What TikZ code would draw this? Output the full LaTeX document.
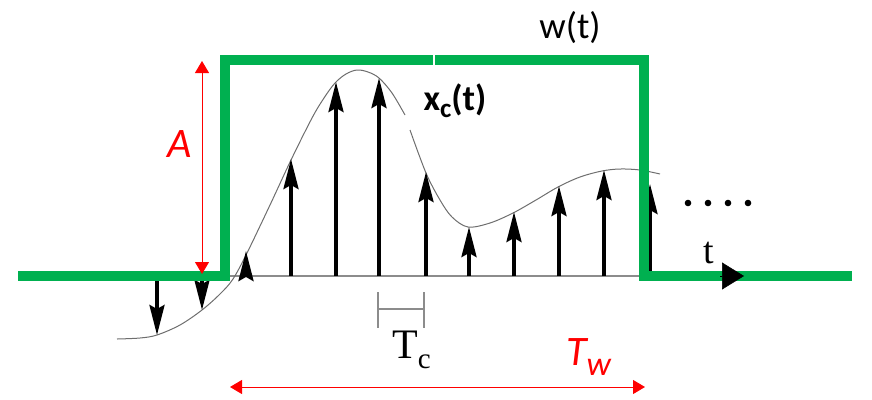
\documentclass[tikz,border=0pt]{standalone}
\usepackage{fontspec}
\setmainfont{Liberation Serif}
\newfontfamily\calfont{Carlito}
\usetikzlibrary{arrows.meta}
\definecolor{wgreen}{RGB}{0,176,80}
\definecolor{curvegray}{RGB}{110,110,110}
\definecolor{axisgray}{RGB}{140,140,140}
\begin{document}
\begin{tikzpicture}[x=1pt,y=-1pt,
  wline/.style={wgreen, line width=10pt, line join=miter},
  stem/.style={black, line width=3.5pt, -{Stealth[length=30pt,width=15pt,inset=4pt]}},
  redarrow/.style={red, line width=1pt, {Triangle[length=12pt,width=14pt]}-{Triangle[length=12pt,width=14pt]}},
  tick/.style={axisgray, line width=1.6pt},
  lbl/.style={inner sep=0pt}]
\useasboundingbox (0,0) rectangle (872,399);
% axis
\coordinate (axL) at (230,276);
\coordinate (axR) at (644,276);
\draw[axisgray, line width=1.4pt] (axL) -- (axR);
% continuous signal
\draw[curvegray, line width=1pt] plot[smooth, tension=0.55] coordinates {(117,339) (140,338) (157,335) (180,325) (202,310) (220,294) (233,279) (247,253) (270,205) (291,160) (312,118) (324,98) (335,83) (346,74) (357,70) (368,72) (379,78) (392,93) (405,115)};
\draw[curvegray, line width=1pt] plot[smooth, tension=0.55] coordinates {(410,130) (426,173) (440,200) (452,217) (468,227) (490,223) (513,213) (536,200) (558,187) (580,177) (602,171) (620,169) (640,170) (660,174)};
% samples
\foreach \i/\x/\y in {0/157/335, 1/202/310, 2/246/251, 3/291/159, 4/336/82, 5/379/78, 6/426/172, 7/469/227, 8/514/212, 9/559/186, 10/604/170, 11/650/184} {
  \coordinate (b\i) at (\x,276);
  \coordinate (s\i) at (\x,\y);
  \draw[stem] (b\i) -- (s\i);
}
% window w(t)
\coordinate (g0) at (18,276);
\coordinate (g1) at (225,276);
\coordinate (g2) at (225,60);
\coordinate (g3) at (644,60);
\coordinate (g4) at (644,276);
\coordinate (g5) at (852,276);
\draw[wline] (g0) -- (g1) -- (g2) -- (g3) -- (g4) -- (g5);
\coordinate (gapT) at (434,54);
\coordinate (gapB) at (434,66);
\draw[white, line width=2pt] (gapT) -- (gapB);
% t axis arrowhead
\coordinate (tb) at (720,276);
\coordinate (tt) at (744,276);
\draw[black, line width=0.5pt, -{Triangle[length=22pt,width=27pt]}] (tb) -- (tt);
% amplitude arrow
\coordinate (aT) at (202,61);
\coordinate (aB) at (202,274);
\draw[redarrow] (aT) -- (aB);
% window length arrow
\coordinate (wL) at (230,387);
\coordinate (wR) at (645,387);
\draw[redarrow] (wL) -- (wR);
% Tc bracket
\coordinate (c1t) at (378,292); \coordinate (c1b) at (378,328);
\coordinate (c2t) at (424,292); \coordinate (c2b) at (424,328);
\coordinate (c1m) at (378,309); \coordinate (c2m) at (424,309);
\draw[tick] (c1t) -- (c1b);
\draw[tick] (c2t) -- (c2b);
\draw[tick] (c1m) -- (c2m);
% dots
\foreach \x in {688,708,728,748} { \fill[black] (\x,203) circle (3.3pt); }
% labels
\node[lbl, anchor=base, font=\calfont\fontsize{37}{37}\selectfont] (wt) at (570,38) {w(t)};
\node[lbl, anchor=base, font=\calfont\bfseries\fontsize{36}{36}\selectfont] (xc) at (455,110) {x\raisebox{-7pt}{\fontsize{27}{27}\selectfont c}(t)};
\node[lbl, anchor=base, red, font=\calfont\itshape\fontsize{42}{42}\selectfont] (A) at (180,157) {A};
\node[lbl, anchor=base west, red, font=\calfont\itshape\fontsize{42}{42}\selectfont] (Tw) at (566,365) {T\raisebox{-10pt}{\fontsize{34}{34}\selectfont w}};
\node[lbl, anchor=base west, font=\fontsize{42}{42}\selectfont] (Tc) at (392,358) {T\raisebox{-10pt}{\fontsize{29}{29}\selectfont c}};
\node[lbl, anchor=base west, font=\fontsize{38}{38}\selectfont] (tl) at (703,263) {t};
\end{tikzpicture}
\end{document}
